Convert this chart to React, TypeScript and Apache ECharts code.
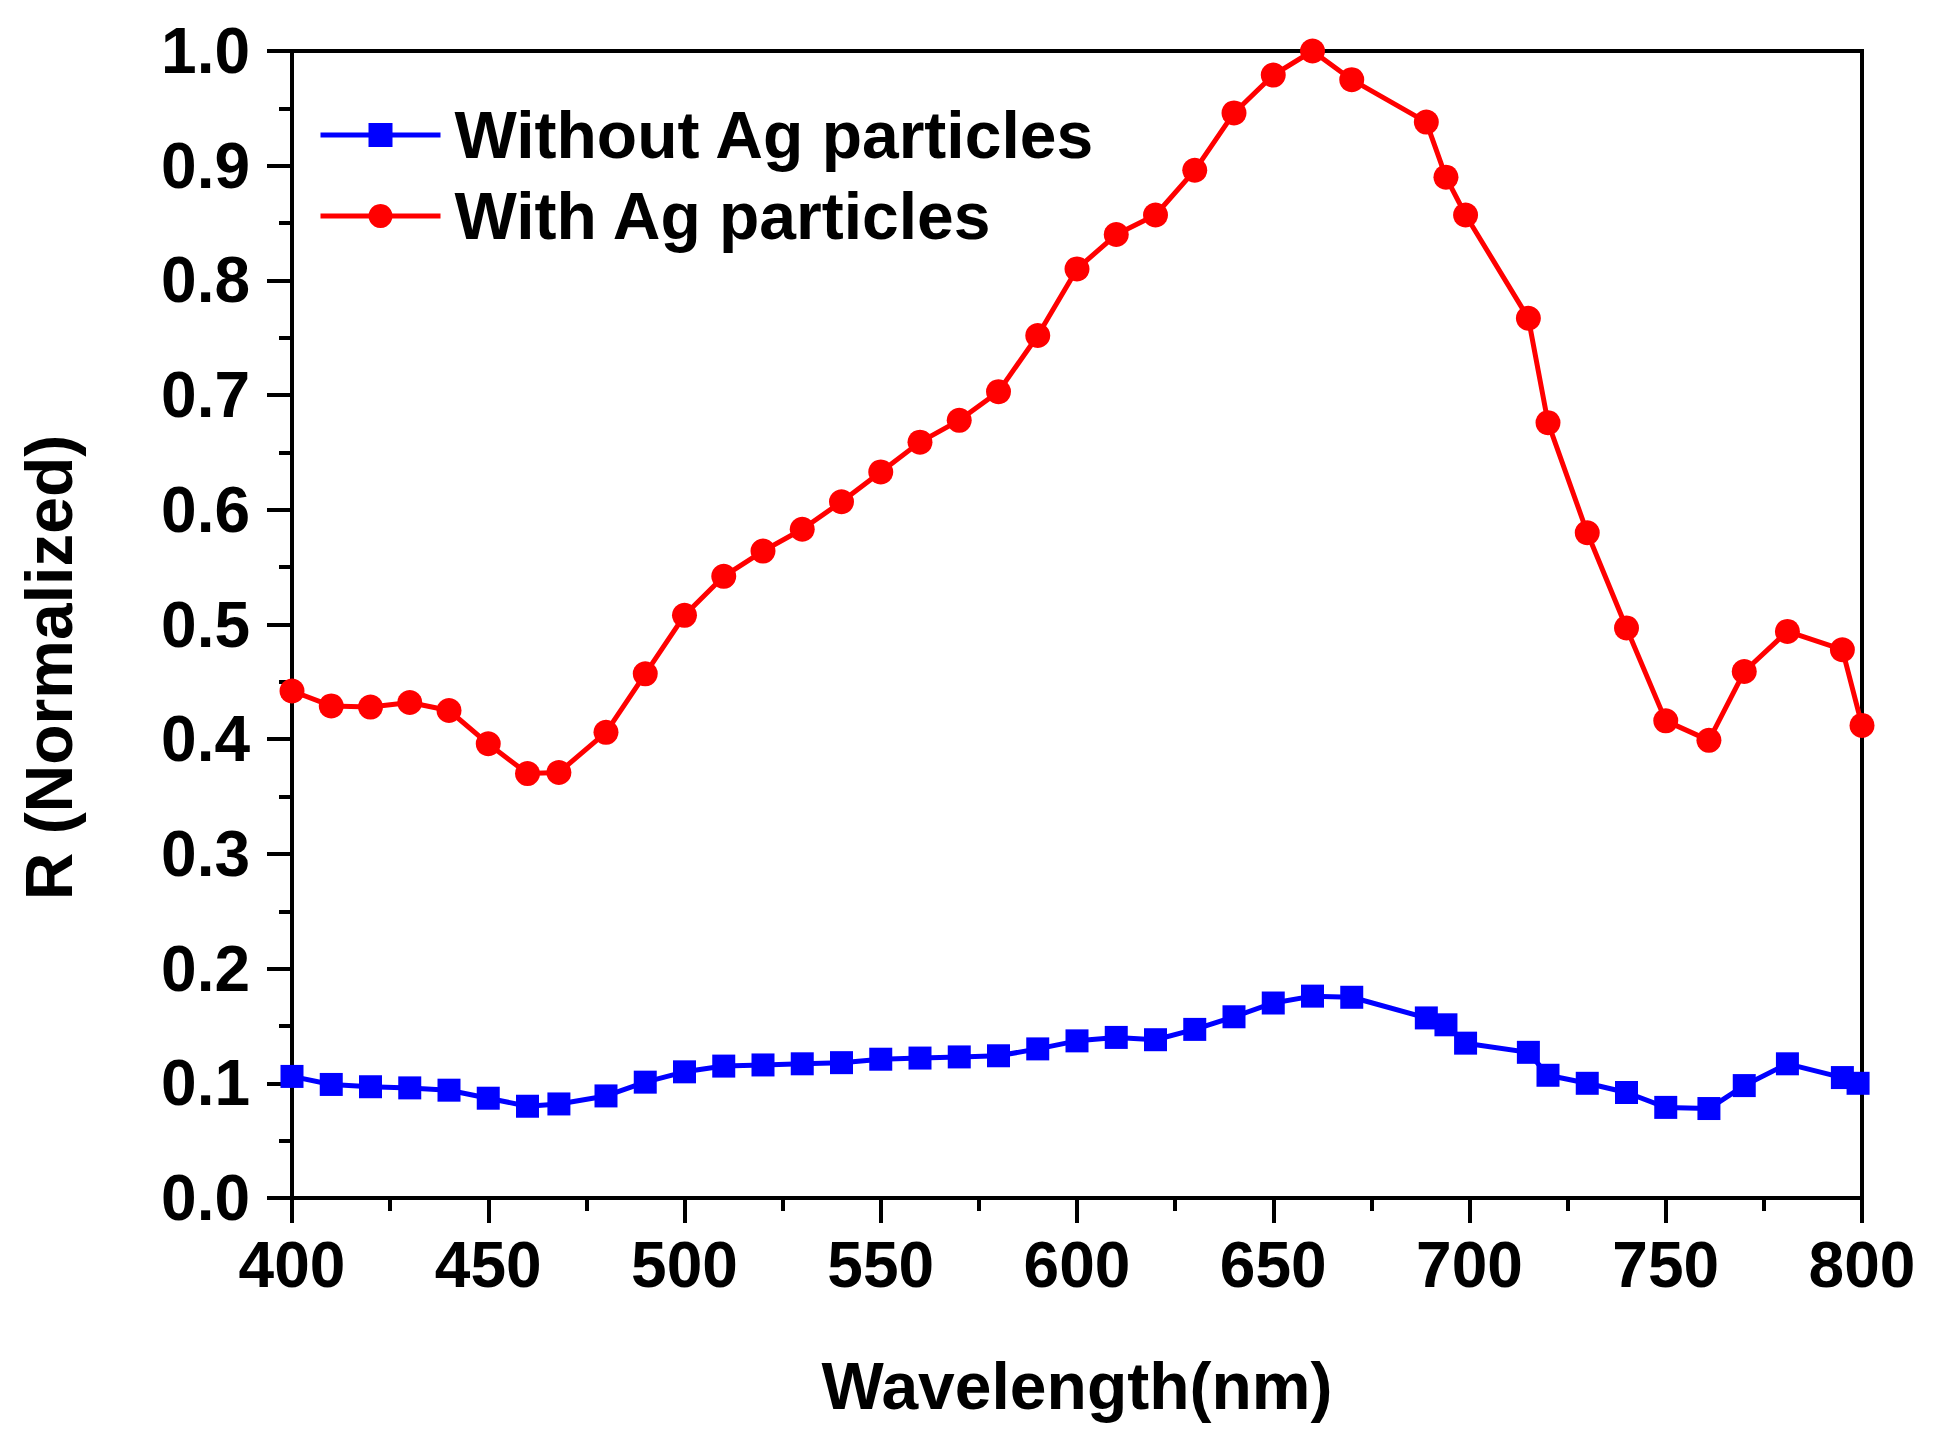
import { useEffect, useRef } from "react";
import * as echarts from "echarts";

// wavelength (nm) and normalized reflectance
const withoutAgX = [400, 410, 420, 430, 440, 450, 460, 468, 480, 490, 500, 510, 520, 530, 540, 550, 560, 570, 580, 590, 600, 610, 620, 630, 640, 650, 660, 670, 689, 694, 699, 715, 720, 730, 740, 750, 761, 770, 781, 795, 799];
const withoutAgY = [0.106, 0.099, 0.097, 0.096, 0.094, 0.087, 0.080, 0.082, 0.089, 0.101, 0.110, 0.115, 0.116, 0.117, 0.118, 0.121, 0.122, 0.123, 0.124, 0.130, 0.137, 0.140, 0.138, 0.147, 0.158, 0.170, 0.176, 0.175, 0.157, 0.151, 0.135, 0.127, 0.107, 0.100, 0.092, 0.079, 0.078, 0.098, 0.117, 0.105, 0.100];

const withAgX = [400, 410, 420, 430, 440, 450, 460, 468, 480, 490, 500, 510, 520, 530, 540, 550, 560, 570, 580, 590, 600, 610, 620, 630, 640, 650, 660, 670, 689, 694, 699, 715, 720, 730, 740, 750, 761, 770, 781, 795, 800];
const withAgY = [0.442, 0.429, 0.428, 0.432, 0.425, 0.396, 0.370, 0.371, 0.406, 0.457, 0.508, 0.542, 0.564, 0.583, 0.607, 0.633, 0.659, 0.678, 0.703, 0.752, 0.810, 0.840, 0.857, 0.896, 0.946, 0.979, 1.0, 0.975, 0.938, 0.890, 0.857, 0.767, 0.676, 0.580, 0.497, 0.416, 0.399, 0.459, 0.494, 0.478, 0.412];

const seriesNames = ["Without Ag particles", "With Ag particles"];

const FONT = "'Liberation Sans', Arial, Helvetica, sans-serif";

function ReflectanceChart() {
  const ref = useRef<HTMLDivElement>(null);
  useEffect(() => {
    if (!ref.current) return;
    document.body.style.margin = "0";
    const chart = echarts.init(ref.current, undefined, { renderer: "svg" });
    const axisText = { color: "#000", fontWeight: "bold" as const, fontSize: 64, fontFamily: FONT };
    chart.setOption({
      animation: false,
      backgroundColor: "#fff",
      grid: {
        left: 292, right: 77, top: 51, bottom: 241,
        show: true, borderColor: "#000", borderWidth: 4,
      },
      legend: {
        orient: "vertical",
        left: 313,
        top: 97,
        itemWidth: 120,
        itemHeight: 30,
        itemGap: 15,
        data: seriesNames,
        lineStyle: { width: 5 },
        textStyle: { color: "#000", fontWeight: "bold", fontSize: 66, fontFamily: FONT, padding: [0, 0, 0, 9] },
      },
      xAxis: {
        type: "value",
        min: 400, max: 800, interval: 50,
        name: "Wavelength(nm)",
        nameLocation: "middle",
        nameGap: 155,
        nameTextStyle: { ...axisText, fontSize: 66 },
        axisLine: { show: true, lineStyle: { color: "#000", width: 4 } },
        axisTick: { show: true, length: 25, lineStyle: { color: "#000", width: 4 } },
        minorTick: { show: true, splitNumber: 2, length: 13, lineStyle: { color: "#000", width: 4 } },
        axisLabel: { ...axisText, margin: 35 },
        splitLine: { show: false },
      },
      yAxis: {
        type: "value",
        min: 0, max: 1, interval: 0.1,
        name: "R (Normalized)",
        nameLocation: "middle",
        nameGap: 210,
        nameTextStyle: { ...axisText, fontSize: 66, padding: [0, 86, 0, 0] },
        axisLine: { show: true, lineStyle: { color: "#000", width: 4 } },
        axisTick: { show: true, length: 25, lineStyle: { color: "#000", width: 4 } },
        minorTick: { show: true, splitNumber: 2, length: 13, lineStyle: { color: "#000", width: 4 } },
        axisLabel: { ...axisText, margin: 42, formatter: (v: number) => v.toFixed(1) },
        splitLine: { show: false },
      },
      series: [
        {
          name: seriesNames[0],
          type: "line",
          data: withoutAgX.map((x, i) => [x, withoutAgY[i]]),
          symbol: "rect",
          symbolSize: 23,
          lineStyle: { color: "#0000ff", width: 5 },
          itemStyle: { color: "#0000ff" },
        },
        {
          name: seriesNames[1],
          type: "line",
          data: withAgX.map((x, i) => [x, withAgY[i]]),
          symbol: "circle",
          symbolSize: 25,
          lineStyle: { color: "#ff0000", width: 5 },
          itemStyle: { color: "#ff0000" },
        },
      ],
    });
    return () => chart.dispose();
  }, []);
  return <div ref={ref} style={{ width: 1939, height: 1439 }} />;
}

export default function App() {
  return <ReflectanceChart />;
}
